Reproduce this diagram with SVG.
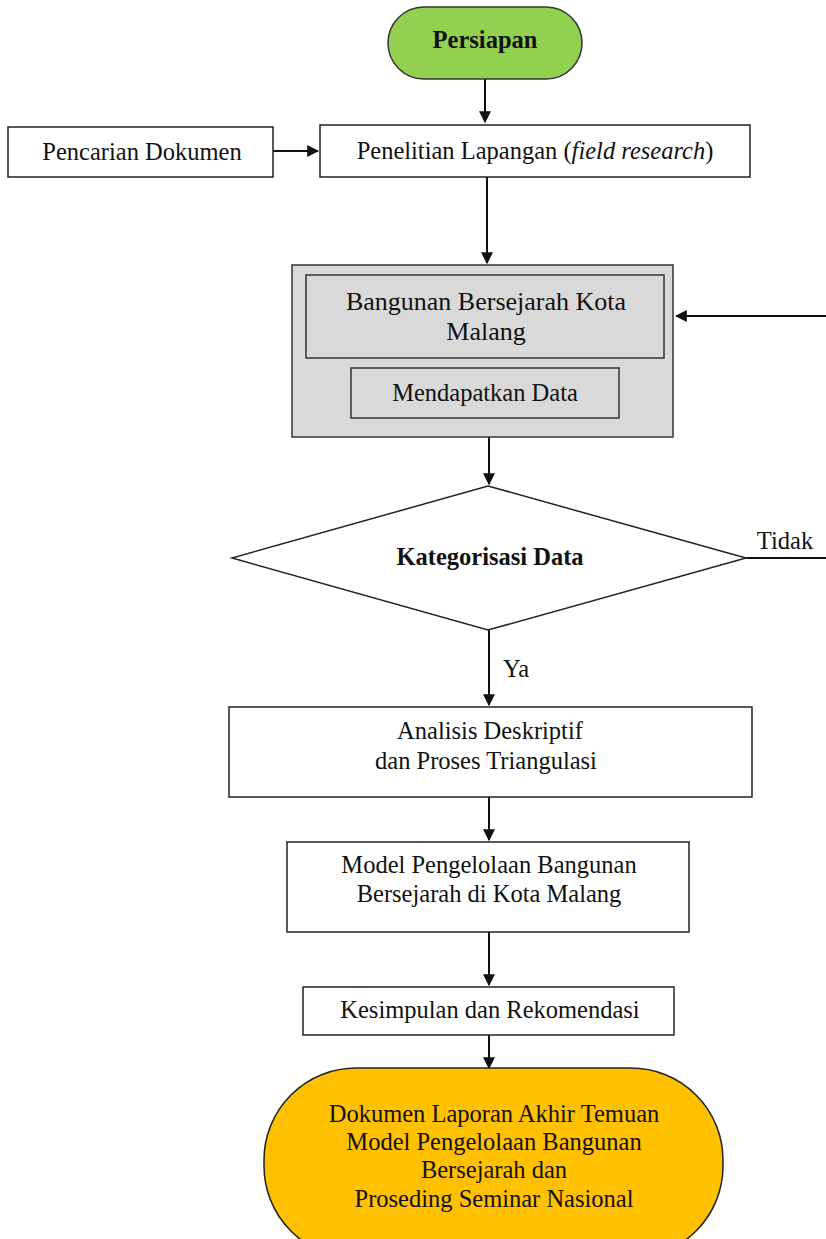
<svg xmlns="http://www.w3.org/2000/svg" width="826" height="1239" viewBox="0 0 826 1239">
<defs>
<style>
.b{fill:#fff;stroke:#222;stroke-width:1.5}
.g{fill:#d9d9d9;stroke:#333;stroke-width:1.5}
.t{font-family:"Liberation Serif","Times New Roman",serif;font-size:24.5px;fill:#111;text-anchor:middle}
.l{font-size:26px}
.bd{font-weight:bold}
.c{stroke:#111;stroke-width:2;fill:none}
</style>
<marker id="ah" viewBox="0 0 10 10" refX="9" refY="5" markerWidth="6" markerHeight="6" orient="auto" markerUnits="strokeWidth">
<path d="M0,0 L10,5 L0,10 z" fill="#111"/>
</marker>
</defs>
<rect width="826" height="1239" fill="#fff"/>
<g id="connectors">
<line class="c" x1="485" y1="79" x2="485" y2="122" marker-end="url(#ah)"/>
<line class="c" x1="273" y1="151" x2="318" y2="151" marker-end="url(#ah)"/>
<line class="c" x1="487" y1="177" x2="487" y2="263" marker-end="url(#ah)" stroke-width="2.5"/>
<line class="c" x1="826" y1="316" x2="676" y2="316" marker-end="url(#ah)"/>
<line class="c" x1="489" y1="437" x2="489" y2="484" marker-end="url(#ah)"/>
<line class="c" x1="746" y1="558" x2="826" y2="558" stroke-width="1.5"/>
<line class="c" x1="489" y1="630" x2="489" y2="705" marker-end="url(#ah)"/>
<line class="c" x1="489" y1="797" x2="489" y2="840" marker-end="url(#ah)"/>
<line class="c" x1="489" y1="932" x2="489" y2="985" marker-end="url(#ah)"/>
<line class="c" x1="489" y1="1035" x2="489" y2="1068" marker-end="url(#ah)"/>
<text class="t" x="785" y="549">Tidak</text>
<text class="t" x="516" y="677">Ya</text>
</g>
<g id="persiapan">
<rect x="388" y="7" width="194" height="72" rx="36" fill="#92d050" stroke="#333" stroke-width="1.5"/>
<text class="t bd" x="485" y="48">Persiapan</text>
</g>
<g id="pencarian">
<rect class="b" x="8" y="127" width="265" height="50"/>
<text class="t" x="142" y="160">Pencarian Dokumen</text>
</g>
<g id="penelitian">
<rect class="b" x="320" y="125" width="430" height="52"/>
<text class="t" x="535" y="159">Penelitian Lapangan (<tspan font-style="italic">field research</tspan>)</text>
</g>
<g id="bangunan">
<rect class="g" x="292" y="265" width="381" height="172"/>
<rect class="g" x="306" y="275" width="358" height="83"/>
<text class="t l" x="486" y="310">Bangunan Bersejarah Kota</text>
<text class="t l" x="486" y="340">Malang</text>
<rect class="g" x="351" y="368" width="268" height="50"/>
<text class="t" x="485" y="401">Mendapatkan Data</text>
</g>
<g id="kategorisasi">
<polygon points="488,486 746,558 488,630 232,558" fill="#fff" stroke="#222" stroke-width="1.5"/>
<text class="t bd" x="490" y="565">Kategorisasi Data</text>
</g>
<g id="analisis">
<rect class="b" x="229" y="707" width="523" height="90"/>
<text class="t" x="490" y="739">Analisis Deskriptif</text>
<text class="t" x="486" y="769">dan Proses Triangulasi</text>
</g>
<g id="model">
<rect class="b" x="287" y="842" width="402" height="90"/>
<text class="t" x="489" y="873">Model Pengelolaan Bangunan</text>
<text class="t" x="489" y="902">Bersejarah di Kota Malang</text>
</g>
<g id="kesimpulan">
<rect class="b" x="303" y="987" width="371" height="48"/>
<text class="t" x="490" y="1018">Kesimpulan dan Rekomendasi</text>
</g>
<g id="dokumen">
<rect x="264" y="1068" width="459" height="190" rx="92" fill="#ffc000" stroke="#222" stroke-width="1.5"/>
<text class="t" x="494" y="1122">Dokumen Laporan Akhir Temuan</text>
<text class="t" x="494" y="1150">Model Pengelolaan Bangunan</text>
<text class="t" x="494" y="1178">Bersejarah dan</text>
<text class="t" x="494" y="1207">Proseding Seminar Nasional</text>
</g>
</svg>
